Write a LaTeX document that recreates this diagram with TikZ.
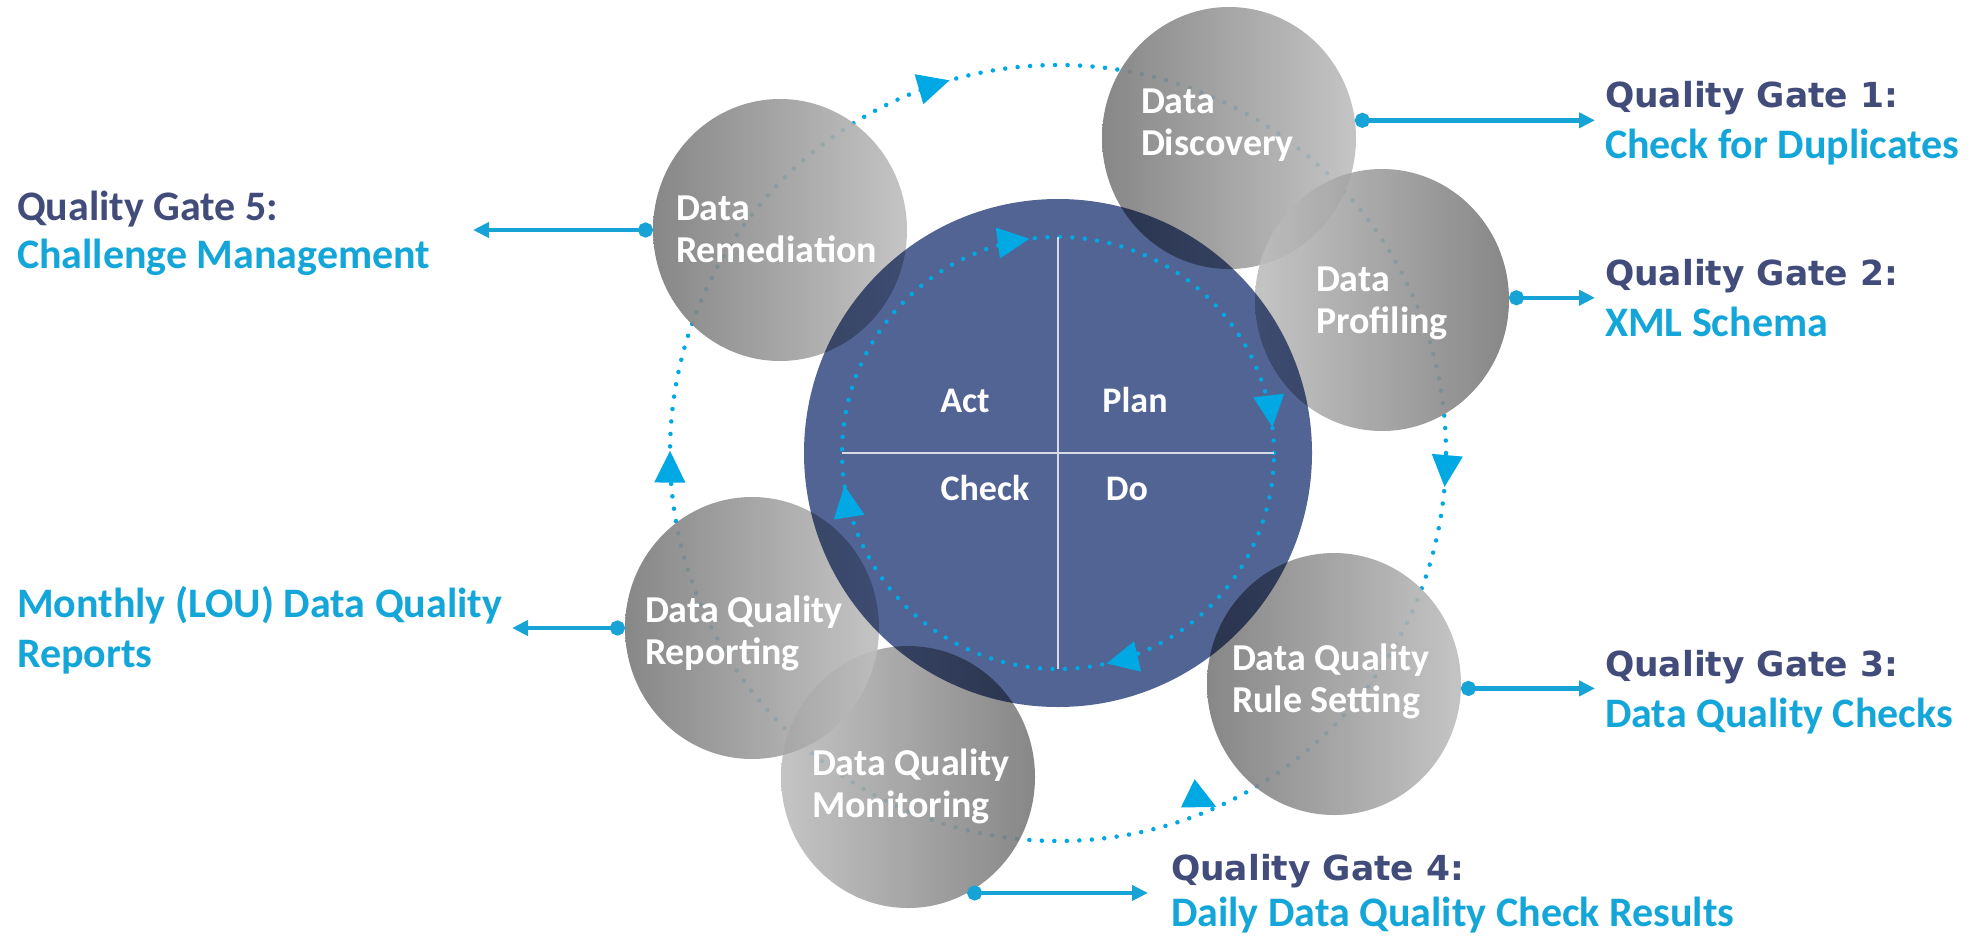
\documentclass[tikz,border=0pt]{standalone}
\usepackage{fontspec}
\setmainfont{Carlito}
\newfontfamily\gatefont{DejaVu Sans}
\usetikzlibrary{arrows.meta,positioning,shapes.geometric,decorations.markings}
\definecolor{pdcablue}{RGB}{81,100,148}
\definecolor{ringcyan}{RGB}{0,168,228}
\definecolor{linkcyan}{RGB}{24,163,214}
\definecolor{gatenavy}{RGB}{66,76,122}
\definecolor{subcyan}{RGB}{20,166,216}
\definecolor{greyD}{RGB}{122,122,122}
\definecolor{greyL}{RGB}{190,190,190}
\definecolor{quadline}{RGB}{214,218,232}

\begin{document}
\begin{tikzpicture}[
    x=1pt, y=1pt,
    every node/.style={inner sep=0pt, outer sep=0pt},
    blob/.style={ellipse, minimum width=254pt, minimum height=262pt, fill opacity=.9},
    darkleft/.style={blob, left color=greyD, right color=greyL},
    lightleft/.style={blob, left color=greyL, right color=greyD},
    stage/.style={text=white, align=left, anchor=base west, font=\fontsize{38}{42}\selectfont\bfseries},
    pdca/.style={text=white, anchor=base, font=\fontsize{36}{40}\selectfont\bfseries},
    ring/.style={ringcyan, line width=4.5pt, line cap=round, dash pattern=on 0pt off 12.5pt},
    ringtip/.tip={Triangle[length=32pt, width=30pt]},
    gate/.style={linkcyan, line width=4.5pt, {Circle[length=15pt]}-{Triangle[length=16pt, width=15pt]}},
    gatehead/.style={text=gatenavy, anchor=base west, font=\gatefont\fontsize{34.5}{40}\selectfont\bfseries},
    gatesub/.style={text=subcyan, anchor=base west, align=left, font=\fontsize{42}{50}\selectfont\bfseries}
]
\useasboundingbox (0,0) rectangle (1979,-937);
\coordinate (c) at (1058,-453);

\draw[ring, postaction={decorate}, decoration={markings,
    mark=at position .295 with {\arrowreversed{ringtip}},
    mark=at position .499 with {\arrowreversed{ringtip}},
    mark=at position .817 with {\arrow[rotate=-50]{ringtip}},
    mark=at position .986 with {\arrowreversed{ringtip}}}]
    (c) circle [radius=388];

\node[darkleft] (remed) at (780,-230) {};
\node[darkleft] (disc) at (1229,-138) {};
\node[lightleft] (prof) at (1382,-300) {};
\node[darkleft] (rules) at (1334,-684) {};
\node[lightleft] (monit) at (908,-777) {};
\node[darkleft] (report) at (752,-628) {};

\begin{scope}[blend mode=multiply]
\node[circle, minimum size=508pt, fill=pdcablue] (pdca) at (c) {};
\end{scope}

\draw[ring, postaction={decorate}, decoration={markings,
    mark=at position .019 with {\arrowreversed{ringtip}},
    mark=at position .271 with {\arrowreversed{ringtip}},
    mark=at position .524 with {\arrowreversed{ringtip}},
    mark=at position .786 with {\arrowreversed{ringtip}}}]
    (c) circle [radius=216];
\draw[quadline, line width=2.5pt] ([xshift=-216pt]c) -- ([xshift=216pt]c);
\draw[quadline, line width=2.5pt] ([yshift=216pt]c) -- ([yshift=-216pt]c);

\node[pdca] (act) at (965,-412) {Act};
\node[pdca] (plan) at (1135,-412) {Plan};
\node[pdca] (check) at (985,-500) {Check};
\node[pdca] (do) at (1127,-500) {Do};

\node[stage] (remedT) at (676,-262) {Data\\Remediation};
\node[stage] (discT) at (1141,-155) {Data\\Discovery};
\node[stage] (profT) at (1316,-333) {Data\\Profiling};
\node[stage] (rulesT) at (1232,-712) {Data Quality\\Rule Setting};
\node[stage] (monitT) at (812,-817) {Data Quality\\Monitoring};
\node[stage] (reportT) at (645,-664) {Data Quality\\Reporting};

\coordinate (g1) at (1595,-120);
\coordinate (g2) at (1595,-298);
\coordinate (g3) at (1595,-689);
\coordinate (g4) at (1148,-893);
\coordinate (g5) at (473,-233);
\coordinate (gm) at (512,-628);
\draw[gate] (disc.8) -- (disc.8 -| g1);
\draw[gate] (prof.1) -- (prof.1 -| g2);
\draw[gate] (rules.-2) -- (rules.-2 -| g3);
\draw[gate] (monit.-63) -- (monit.-63 -| g4);
\draw[gate] (remed.180) -- (remed.180 -| g5);
\draw[gate] (report.180) -- (report.180 -| gm);

\node[gatehead] (gate1) at (1605,-107) {Quality Gate 1:};
\node[gatesub, below=51pt of gate1.base west, anchor=base west] (sub1) {Check for Duplicates};
\node[gatehead] (gate2) at (1605,-285) {Quality Gate 2:};
\node[gatesub, below=51pt of gate2.base west, anchor=base west] (sub2) {XML Schema};
\node[gatehead] (gate3) at (1605,-676) {Quality Gate 3:};
\node[gatesub, below=51pt of gate3.base west, anchor=base west] (sub3) {Data Quality Checks};
\node[gatehead] (gate4) at (1171,-880) {Quality Gate 4:};
\node[gatesub, below=46pt of gate4.base west, anchor=base west] (sub4) {Daily Data Quality Check Results};
\node[gatesub, text=gatenavy] (gate5) at (17,-220) {Quality Gate 5:};
\node[gatesub, below=48pt of gate5.base west, anchor=base west] (sub5) {Challenge Management};
\node[gatesub] (month) at (17,-667) {Monthly (LOU) Data Quality\\Reports};
\end{tikzpicture}
\end{document}
